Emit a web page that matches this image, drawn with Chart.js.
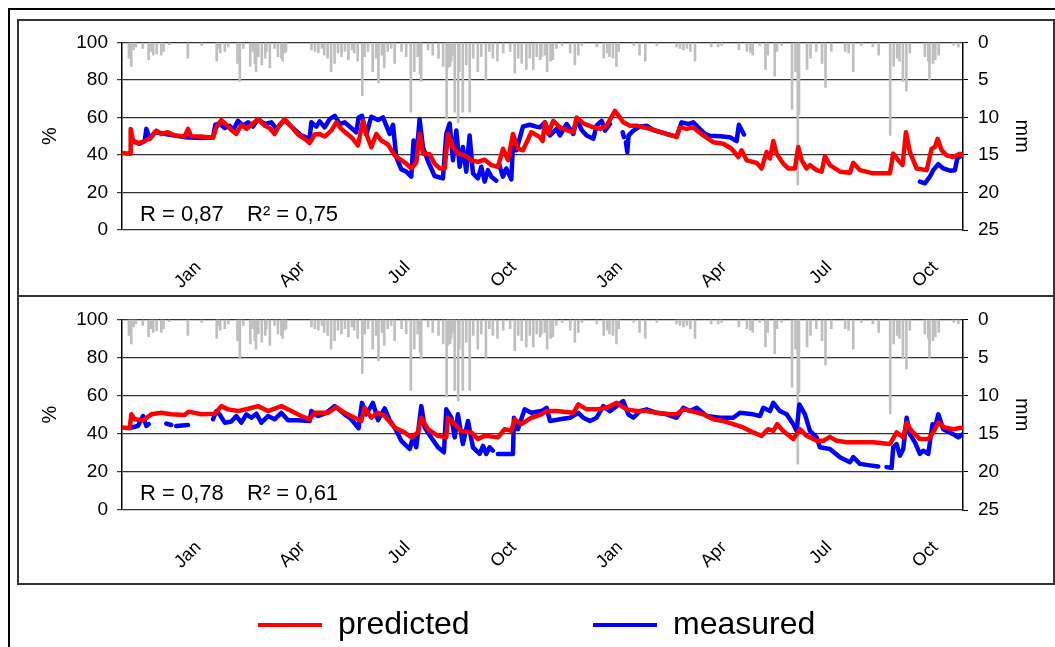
<!DOCTYPE html>
<html><head><meta charset="utf-8">
<script src="https://cdn.jsdelivr.net/npm/chart.js@4.4.0/dist/chart.umd.min.js"></script>
<style>
html,body{margin:0;padding:0;background:#fff;width:1055px;height:647px;overflow:hidden;position:relative}
#outer{position:absolute;left:8px;top:8px;width:1100px;height:700px;border:2px solid #000;box-sizing:border-box}
.panel{position:absolute;left:17px;width:1038px;border:2px solid #333;box-sizing:border-box}
#box1{top:19px;height:278px}
#box2{top:295px;height:290px}
canvas{position:absolute}
#c1{left:19px;top:21px}
#c2{left:19px;top:298px}
#la{left:248px;top:599px}
#lb{left:583px;top:599px}
</style></head>
<body>
<div id="outer"></div>
<div class="panel" id="box1"></div>
<div class="panel" id="box2"></div>
<canvas id="c1" width="1032" height="273"></canvas>
<canvas id="c2" width="1032" height="284"></canvas>
<canvas id="la" width="300" height="140"></canvas>
<canvas id="lb" width="320" height="140"></canvas>
<script>
// x = days since start of record (start ~ 27 Oct); month ticks
const tickDays = [66, 156, 247, 339, 431, 521, 612, 704];
const tickLabels = ['Jan', 'Apr', 'Jul', 'Oct', 'Jan', 'Apr', 'Jul', 'Oct'];
const leftTicks = [0, 20, 40, 60, 80, 100];
const rightTicks = [0, 5, 10, 15, 20, 25];
const seriesNames = ['predicted', 'measured'];
const stats1 = ['R = 0,87', 'R\u00B2 = 0,75'];
const stats2 = ['R = 0,78', 'R\u00B2 = 0,61'];

// daily rainfall [day, mm]
const rain = [[6,2.1],[8,3.2],[10,1.0],[12,0.6],[18,0.8],[23,2.3],[25,1.2],[27,1.7],[30,1.5],[34,1.7],[36,1.2],[41,0.3],[57,2.1],[69,0.4],[82,2.5],[83,0.8],[85,1.4],[89,1.2],[92,0.6],[100,2.8],[102,5.2],[105,0.8],[111,3.2],[113,1.2],[115,2.8],[116,3.9],[118,1.9],[121,3.0],[124,2.1],[125,1.2],[128,3.4],[132,0.8],[135,1.9],[138,2.1],[139,2.5],[141,1.4],[142,1.2],[164,1.0],[167,1.2],[170,1.4],[173,0.8],[175,1.7],[178,2.1],[181,3.9],[184,2.8],[187,1.4],[190,1.9],[193,1.2],[196,2.3],[199,1.0],[201,1.4],[204,2.5],[208,7.1],[210,1.9],[213,1.2],[217,3.9],[220,2.1],[222,5.4],[225,1.7],[227,3.4],[230,1.2],[233,0.8],[236,2.8],[242,1.2],[246,1.9],[250,9.3],[253,3.9],[256,1.9],[258,4.3],[259,5.2],[265,1.0],[269,1.7],[274,2.1],[278,3.2],[281,10.2],[282,3.4],[284,3.2],[285,2.5],[287,1.7],[288,9.3],[291,10.7],[292,3.9],[295,9.3],[298,3.0],[301,9.3],[304,2.1],[308,3.9],[311,1.9],[315,5.0],[318,1.2],[321,2.1],[325,2.5],[330,1.4],[336,1.2],[340,4.1],[343,2.1],[346,2.8],[350,3.6],[353,2.1],[356,3.6],[359,1.9],[362,2.3],[363,1.9],[366,1.7],[368,3.9],[371,2.5],[373,2.3],[376,0.8],[381,0.4],[388,1.4],[392,3.0],[395,1.7],[398,0.4],[411,0.6],[417,2.1],[420,1.4],[422,1.9],[425,2.1],[428,3.2],[430,1.2],[443,0.4],[448,1.7],[453,2.5],[463,0.4],[480,0.6],[483,0.8],[486,1.0],[489,0.8],[492,1.2],[496,2.5],[510,0.6],[516,0.6],[519,0.4],[534,1.0],[541,1.2],[544,1.4],[546,1.7],[552,0.4],[557,3.6],[559,1.7],[565,4.5],[567,1.2],[571,0.4],[580,8.9],[583,3.9],[585,19],[586,9.6],[593,3.6],[596,2.1],[601,1.2],[606,2.8],[609,6.0],[614,1.2],[626,1.2],[629,1.4],[633,3.9],[640,0.4],[650,0.6],[655,1.7],[665,12.4],[668,3.2],[671,2.1],[673,2.5],[676,5.2],[679,6.5],[682,1.4],[695,1.9],[698,2.5],[699,5.0],[702,2.8],[704,2.3],[707,1.7],[720,0.4],[724,0.6]];

// panel 1 [day, %]
const pred1 = [[0,41],[7,40.7],[7.5,53.9],[9.5,47.7],[13.8,46.3],[19.6,47.4],[25.4,49.5],[29.7,53],[34,51.2],[39.8,52.1],[45.6,50.4],[54.2,49.8],[57.1,53.9],[60,50],[68.7,49.8],[78.8,49.1],[81.6,54.7],[86,58.6],[90.3,56.1],[94.6,53.3],[99,51.2],[103.3,56.1],[107.6,53.9],[112,56.1],[117.7,59.1],[123.5,55.6],[127.8,54.4],[132.1,51.2],[136.5,56.1],[140.8,59.1],[146.6,55.1],[152.3,50.9],[158.1,48.6],[162.4,46.3],[166.8,50.9],[171.1,51.2],[175.4,49.8],[181.2,53],[185.5,57.4],[189.8,53.9],[194.2,51.6],[198.5,49.5],[204.3,45.1],[208.6,58.2],[211.5,51.2],[215.8,44.2],[220.1,51.2],[224.5,47.7],[230.2,45.6],[236,39.8],[241.8,37.2],[246.1,35.4],[250.4,32.8],[254.7,35.8],[257.6,51.2],[260.5,40.7],[266.3,40.4],[270.6,35.4],[275,32.8],[279.3,32.8],[282.2,51.2],[286.5,44.2],[290.8,40.7],[296.6,39.8],[302.4,37.2],[308.1,36.3],[313.9,37.5],[319.7,34.6],[325.4,33.7],[329.8,43.3],[334.1,37.2],[338.4,51.2],[342.7,43.3],[347.1,42.5],[354.3,52.1],[361.8,49.5],[364.1,47.4],[366.1,57.4],[369,51.2],[373.3,58.2],[379.1,54.7],[384.9,53.3],[390.7,52.1],[393.5,60],[399.3,56.8],[408,54.7],[413.7,53.9],[419.5,55.6],[426.7,63.5],[434,57.4],[439.7,55.6],[445.5,55.6],[451.2,54.7],[457,53.9],[464.2,52.6],[471.4,51.2],[480.1,49.5],[483,54.7],[488.7,53.9],[494.5,54.7],[503.2,50.4],[511.8,46.8],[520.5,46],[527.7,43.3],[533.5,38.9],[536.3,42.5],[540.7,37.2],[549.3,35.8],[553.7,32.8],[558,41.6],[560.9,38.1],[563.8,47.4],[566.6,40.7],[572.4,35.4],[576.7,32.8],[582.5,32.8],[585.4,44.2],[588.3,37.2],[592.6,32.8],[595.5,34.6],[601.3,31.9],[605.6,31.1],[608.5,39.3],[612.8,34.6],[621.5,31.1],[630.1,30.5],[633,35.8],[638.8,31.9],[650.3,30.2],[664.7,30.2],[667.6,40.7],[671.9,37.2],[675.7,34.6],[678.6,52.1],[682,41.6],[687.8,32.8],[696.5,31.9],[700.8,43.3],[703.7,44.2],[706,48.6],[709.5,42.5],[713.8,39.8],[719.5,38.9],[725.3,40.7],[728,39.8]];
const meas1 = [[8.1,49.5],[11,46.8],[15.3,46],[19.6,47.4],[21.1,53.9],[24,48.6],[28.3,52.1],[34,51.6],[39.8,50.9],[54.2,49.5],[68.7,49.1],[78.8,49.5],[80.8,56.1],[84.5,56.8],[88.9,54.4],[93.2,55.6],[96.1,53],[100.4,58.2],[104.7,55.6],[109.1,57.4],[113.4,55.1],[117.7,59.1],[123.5,56.5],[129.3,57.4],[133.6,53.9],[140.8,58.6],[146.6,55.1],[155.2,50.4],[162.4,48.6],[163.9,57.4],[168.2,55.1],[171.1,57.9],[175.4,54.7],[179.7,59.1],[184.1,60.9],[188.4,56.5],[192.7,57.4],[198.5,54.4],[202.8,52.1],[204.8,60],[207.7,60.9],[211.5,50.9],[215.8,60.4],[221.6,58.6],[225.9,60],[231.7,51.2],[234.6,56.1],[237.4,38.9],[241.8,32.3],[246.1,31.1],[250.4,28.4],[252.4,47.7],[254.7,37.5],[257.6,59.1],[260.5,44.2],[264.8,36.8],[270.6,28.8],[277.8,27.5],[280.7,51.2],[283.6,56.8],[286.5,37.2],[289.4,53],[292.3,33.7],[295.1,44.2],[298,31.1],[300.9,50.4],[303.8,30.2],[308.1,27.5],[311,33.7],[313.9,25.8],[316.8,31.9],[319.7,28.4],[324,26.3],[325,null],[326.3,35.4],[329.8,28.4],[332.6,32.8],[337,27],[338.7,49.5],[341.3,42.5],[347.1,55.1],[352.8,56.1],[358.6,55.1],[361.8,54.7],[366.1,57.4],[370.5,50.4],[376.2,53.9],[379.1,50.4],[384.9,56.5],[390.7,51.2],[393.5,59.1],[397.9,53.3],[402.2,50.4],[408,48.6],[410.8,55.6],[415.2,58.2],[418.1,53],[422.4,56.5],[425,null],[433.4,52.1],[434.5,49.5],[435.3,null],[436.2,46.8],[437.4,41.6],[438.5,50.4],[442.6,53],[448.4,55.1],[454.1,55.6],[459.9,53.3],[471.4,51.2],[480.1,49.8],[484.4,57.4],[490.2,56.5],[494.5,57.4],[498.8,54.7],[504.6,51.2],[508.9,50.2],[517.6,50],[526.2,49.5],[532,47.4],[534,56.1],[538.4,50.9],[540,null],[690.7,25.8],[695,24.9],[699.3,28.4],[702.2,31.9],[706.6,35.1],[710.9,32.8],[716.7,31.6],[721,31.9],[723,38.1],[726.8,39.8],[728,40.7]];

// panel 2 [day, %]
const pred2 = [[0,43.3],[6.6,42.9],[8.1,50.2],[11,47.6],[18.2,47.1],[25.4,50.2],[34,51],[42.7,50.2],[54.2,49.8],[57.7,51.6],[68.7,50.2],[80.2,50.5],[86,54.5],[91.7,52.8],[100.4,51.9],[109.1,53.1],[117.7,54.5],[126.4,51.9],[137.9,54.5],[146.6,51.9],[155.2,49.3],[162.4,47.6],[166.8,51],[178.3,51],[185.5,54],[192.7,51],[201.4,48.4],[207.1,46.7],[210,53.6],[215.8,48.4],[221.6,51],[227.4,49.3],[236,43.3],[244.7,40.7],[250.4,38.1],[256.2,40.7],[259.1,48.4],[264.8,42.4],[273.5,38.9],[280.7,38.1],[282.2,48.4],[288,45],[293.7,41.5],[302.4,40.7],[308.1,37.2],[313.9,38.9],[325.4,38.1],[331.2,42.4],[337,41.5],[339.9,47.6],[345.6,45],[354.3,48.4],[363,50.2],[367.6,51.9],[376.2,51.9],[390.7,51],[395,55.4],[402.2,52.8],[410.8,52.8],[419.5,53.6],[428.2,56.2],[436.8,52.8],[445.5,51.9],[454.1,51.9],[462.8,51],[474.3,50.2],[480.1,50.2],[485.9,52.8],[494.5,51.6],[503.2,50.2],[511.8,47.6],[520.5,46.7],[529.1,45],[537.8,43.3],[546.4,40.7],[553.7,38.9],[559.4,42.4],[563.8,41.5],[567.2,45],[572.4,41.5],[581.1,37.2],[586.8,42.4],[592.6,38.9],[601.3,36.3],[607,36.3],[612.8,38.4],[618.6,36.3],[627.2,35.5],[650.3,35.5],[664.7,34.6],[670.5,40.7],[676.3,38.1],[679.2,45.8],[683.5,41.5],[690.7,37.2],[697.9,37.2],[702.2,40.7],[706.6,45.8],[712.3,43.3],[719.5,42.4],[728,43.3]];
const meas2 = [[8.1,43.3],[13.8,44.1],[18.2,49.3],[21.1,44.1],[23.1,45],[24,null],[38.4,45.3],[42.7,44.6],[44,null],[47,44.1],[57.1,44.6],[58,null],[78.8,47.6],[81.6,51.9],[84.5,50.2],[88.9,45.8],[94.6,46.4],[99,49.3],[103.3,45.8],[107.6,50.2],[112,48.4],[116.3,50.5],[120.6,45.8],[126.4,49.3],[132.1,47.6],[137.9,51],[143.7,47.1],[152.3,47.1],[162.4,46.7],[163.9,51.9],[169.6,49.3],[176.9,51],[184.1,54.5],[192.7,50.2],[198.5,47.6],[204.8,42.9],[207.7,56.2],[211.5,50.2],[217.2,56.2],[221.6,47.1],[227.4,53.3],[231.7,47.1],[236,43.3],[241.8,36.3],[249,32],[251.9,38.1],[254.7,32.9],[259.1,54.5],[262,43.3],[267.7,38.1],[273.5,32.9],[278.7,30.3],[280.7,52.8],[285.1,48.4],[288,38.1],[290.8,50.2],[295.1,34.6],[299.5,46.7],[303.8,32.9],[309.6,29.4],[312.5,33.7],[315.3,29.4],[318.2,32.9],[321.1,31.1],[322,null],[325.4,29.4],[338.4,29.4],[339.3,48.4],[342.7,42.4],[348.5,52.8],[354.3,51],[363,51.9],[367.6,53.6],[370.5,46.7],[379.1,47.6],[387.8,48.4],[395,51],[399.3,48.4],[405.1,46.7],[410.8,48.4],[416.6,54.5],[422.4,51.9],[433.9,57.1],[438.3,50.2],[442.6,48.4],[448.4,51.9],[454.1,52.8],[462.8,51],[471.4,50.2],[480.1,48.4],[485.9,53.6],[491.6,51.9],[497.4,53.6],[506.1,49.3],[517.6,48.4],[529.1,48.4],[534.9,51],[546.4,50.2],[552.2,49.3],[555.1,53.6],[560.9,51.9],[563.8,56.2],[569.5,51.9],[575.3,50.2],[581.1,45],[584,41.5],[586.3,55.4],[591.2,50.2],[595.5,41.5],[601.3,38.1],[604.1,32.9],[612.8,32],[621.5,27.7],[630.1,25.1],[633,27.7],[638.8,24.2],[647.4,23.4],[654.6,22.8],[657,null],[661.8,22.5],[666.2,22.1],[667.6,32.9],[670.5,34.6],[673.4,28.5],[676.3,32],[679.2,48.4],[682,39.8],[686.4,35.5],[690.7,29.4],[693.6,31.1],[697.9,29.4],[701.6,45],[703.7,43.3],[706.6,50.2],[710.9,42.4],[719.5,39.8],[723.9,38.1],[728,39.8]];

const RED = '#FF0000', BLUE = '#0000FF', GREY = '#BFBFBF';
const FONT = '"Liberation Sans", Arial, sans-serif';
Chart.defaults.font.family = FONT;
Chart.defaults.color = '#000';

const toXY = arr => arr.map(([x, y]) => ({x, y}));

const statsPlugin = {
  id: 'stats',
  afterDatasetsDraw(chart, args, opts) {
    if (!opts.text) return;
    const {ctx, chartArea} = chart;
    ctx.save();
    ctx.font = '22px ' + FONT;
    ctx.fillStyle = '#000';
    ctx.textBaseline = 'alphabetic';
    ctx.fillText(opts.text[0], chartArea.left + 18, chartArea.bottom - opts.dy);
    ctx.fillText(opts.text[1], chartArea.left + 125, chartArea.bottom - opts.dy);
    ctx.restore();
  }
};

function panel(id, pred, meas, stats, xH, dy) {
  return new Chart(document.getElementById(id), {
    type: 'line',
    data: {
      datasets: [
        {type: 'line', label: seriesNames[0], data: toXY(pred), borderColor: RED, borderWidth: 4.5, pointRadius: 0, tension: 0, spanGaps: false, order: 0, yAxisID: 'y', borderJoinStyle: 'round', borderCapStyle: 'round'},
        {type: 'line', label: seriesNames[1], data: toXY(meas), borderColor: BLUE, borderWidth: 4.5, pointRadius: 0, tension: 0, spanGaps: false, order: 1, yAxisID: 'y', borderJoinStyle: 'round', borderCapStyle: 'round'},
        {type: 'bar', label: 'rain', data: toXY(rain), backgroundColor: GREY, borderWidth: 0, barThickness: 2, order: 2, yAxisID: 'yR'}
      ]
    },
    options: {
      responsive: false, animation: false, devicePixelRatio: 1,
      layout: {padding: {top: 19, left: 0, right: 0, bottom: 0}},
      plugins: {legend: {display: false}, tooltip: {enabled: false}, stats: {text: stats, dy: dy}},
      scales: {
        x: {
          type: 'linear', min: 0, max: 728, offset: false,
          grid: {display: false}, border: {display: false},
          afterBuildTicks: s => { s.ticks = tickDays.map(v => ({value: v})); },
          afterFit: s => { s.height = xH; },
          ticks: {autoSkip: false, minRotation: 45, maxRotation: 45, padding: 19,
                  font: {size: 18}, color: '#000',
                  callback: (v, i) => tickLabels[i]}
        },
        y: {
          position: 'left', min: 0, max: 100,
          afterBuildTicks: s => { s.ticks = leftTicks.map(v => ({value: v})); },
          afterFit: s => { s.width = 103; },
          grid: {color: '#333', lineWidth: 1.2, tickLength: 5, drawTicks: true},
          border: {display: true, color: '#000', width: 1.5},
          ticks: {padding: 9, font: {size: 19}, color: '#000'},
          title: {display: true, text: '%', font: {size: 20}, padding: {top: 19, bottom: 0}, color: '#000'}
        },
        yR: {
          position: 'right', min: 0, max: 25, reverse: true,
          afterBuildTicks: s => { s.ticks = rightTicks.map(v => ({value: v})); },
          afterFit: s => { s.width = 88; },
          grid: {drawOnChartArea: false, color: '#000', tickLength: 5, drawTicks: true},
          border: {display: true, color: '#000', width: 1.5},
          ticks: {padding: 10, font: {size: 19}, color: '#000'},
          title: {display: true, text: 'mm', font: {size: 20}, padding: {top: 17, bottom: 0}, color: '#000'}
        }
      }
    },
    plugins: [statsPlugin]
  });
}

panel('c1', pred1, meas1, stats1, 64, 9);
panel('c2', pred2, meas2, stats2, 72, 10);

// legend (one small legend-only chart per series)
function legendChart(id, name, color) {
  return new Chart(document.getElementById(id), {
    type: 'line',
    data: {datasets: [{label: name, data: [], borderColor: color, backgroundColor: color, borderWidth: 0}]},
    options: {
      responsive: false, animation: false, devicePixelRatio: 1,
      scales: {x: {display: false}, y: {display: false}},
      plugins: {tooltip: {enabled: false},
        legend: {display: true, position: 'top', align: 'start',
          labels: {boxWidth: 64, boxHeight: 4, padding: 10, color: '#000', font: {size: 32}}}}
    }
  });
}
legendChart('la', seriesNames[0], RED);
legendChart('lb', seriesNames[1], BLUE);
</script>
</body></html>
